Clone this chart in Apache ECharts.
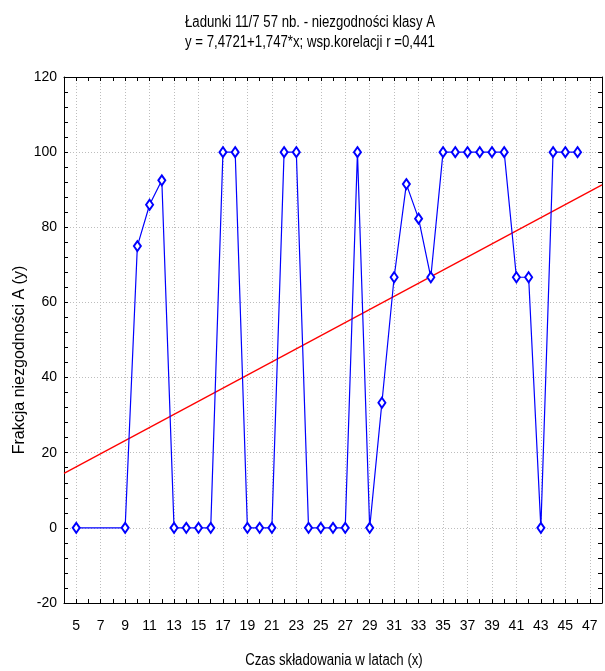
<!DOCTYPE html>
<html><head><meta charset="utf-8">
<script src="https://cdn.jsdelivr.net/npm/echarts@6/dist/echarts.min.js"></script>
<style>html,body{margin:0;padding:0;background:#fff}#c{width:605px;height:671px}</style>
</head><body><div id="c"></div>
<script>
// ---- data ----
const titleLines = ['Ładunki 11/7 57 nb. - niezgodności klasy A', 'y = 7,4721+1,747*x; wsp.korelacji r =0,441'];
const xAxisName = 'Czas składowania w latach (x)';
const yAxisName = 'Frakcja niezgodności A (y)';
const xYears = [5,9,10,11,12,13,14,15,16,17,18,19,20,21,22,23,24,25,26,27,28,29,30,31,32,33,34,35,36,37,38,39,40,41,42,43,44,45,46];
const yFraction = [0,0,75,86,92.5,0,0,0,0,100,100,0,0,0,100,100,0,0,0,0,100,0,33.3,66.7,91.5,82.3,66.7,100,100,100,100,100,100,66.7,66.7,0,100,100,100];
const fitX = [4, 48];
const fitY = [14.5, 91.3];
const xTickLabels = [5,7,9,11,13,15,17,19,21,23,25,27,29,31,33,35,37,39,41,43,45,47];
const yTickLabels = [-20,0,20,40,60,80,100,120];

// ---- chart ----
const sans = "'Liberation Sans',Arial,sans-serif";
const chart = echarts.init(document.getElementById('c'), null, {renderer:'canvas'});
const gridCol = '#bdbdbd';
const baseX = {
  type:'value', min:4, max:48, interval:1,
  axisLine:{show:true, onZero:false, lineStyle:{color:'#000', width:1}},
  axisTick:{show:true, inside:true, length:4, lineStyle:{color:'#000'}},
};
const baseY = {
  type:'value', min:yTickLabels[0], max:yTickLabels[yTickLabels.length-1], interval:20,
  axisLine:{show:true, onZero:false, lineStyle:{color:'#000', width:1}},
  axisTick:{show:true, inside:true, length:4, lineStyle:{color:'#000'}},
  minorTick:{show:true, splitNumber:5, length:4, lineStyle:{color:'#000'}},
};
chart.setOption({
  animation:false,
  backgroundColor:'#fff',
  grid:{left:64, top:77, width:540, height:526, containLabel:false},
  xAxis:[
    Object.assign({}, baseX, {
      position:'bottom',
      axisLabel:{show:true, margin:16, color:'#000', fontFamily:sans, fontSize:14,
        formatter:v => xTickLabels.indexOf(v) >= 0 ? String(v) : ''},
      splitLine:{show:true, lineStyle:{color:['rgba(0,0,0,0)', gridCol], type:[1,2], width:1}}
    }),
    Object.assign({}, baseX, {
      position:'top',
      axisLabel:{show:false},
      splitLine:{show:false}
    })
  ],
  yAxis:[
    Object.assign({}, baseY, {
      position:'left',
      axisLabel:{show:true, margin:7, color:'#000', fontFamily:sans, fontSize:14,
        formatter:v => yTickLabels.indexOf(v) >= 0 ? String(v) : ''},
      splitLine:{show:true, lineStyle:{color:gridCol, type:[1,2], width:1}}
    }),
    Object.assign({}, baseY, {
      position:'right',
      axisLabel:{show:false},
      splitLine:{show:false}
    })
  ],
  series:[
    {
      type:'line', name:'fit', xAxisIndex:0, yAxisIndex:0,
      data: fitX.map((x,i)=>[x, fitY[i]]),
      showSymbol:false, symbol:'none',
      lineStyle:{color:'#ff0000', width:1.3},
      silent:true, z:2
    },
    {
      type:'line', name:'A', xAxisIndex:0, yAxisIndex:0,
      data: xYears.map((x,i)=>[x, yFraction[i]]),
      symbol:'emptyDiamond', symbolSize:[7,10], showAllSymbol:true,
      lineStyle:{color:'#0000ff', width:1.2},
      itemStyle:{color:'#0000ff', borderColor:'#0000ff', borderWidth:1.2},
      silent:true, z:3
    }
  ],
  graphic:[
    {type:'text', x:310, y:23, scaleX:0.825, style:{text:titleLines[0], fill:'#000', font:"16px " + sans, textAlign:'center', textVerticalAlign:'middle'}},
    {type:'text', x:310, y:43, scaleX:0.825, style:{text:titleLines[1], fill:'#000', font:"16px " + sans, textAlign:'center', textVerticalAlign:'middle'}},
    {type:'text', x:334, y:661, scaleX:0.825, style:{text:xAxisName, fill:'#000', font:"16px " + sans, textAlign:'center', textVerticalAlign:'middle'}},
    {type:'text', x:20, y:360, rotation:Math.PI/2, style:{text:yAxisName, fill:'#000', font:"16px " + sans, textAlign:'center', textVerticalAlign:'middle'}}
  ]
});
</script>
</body></html>
